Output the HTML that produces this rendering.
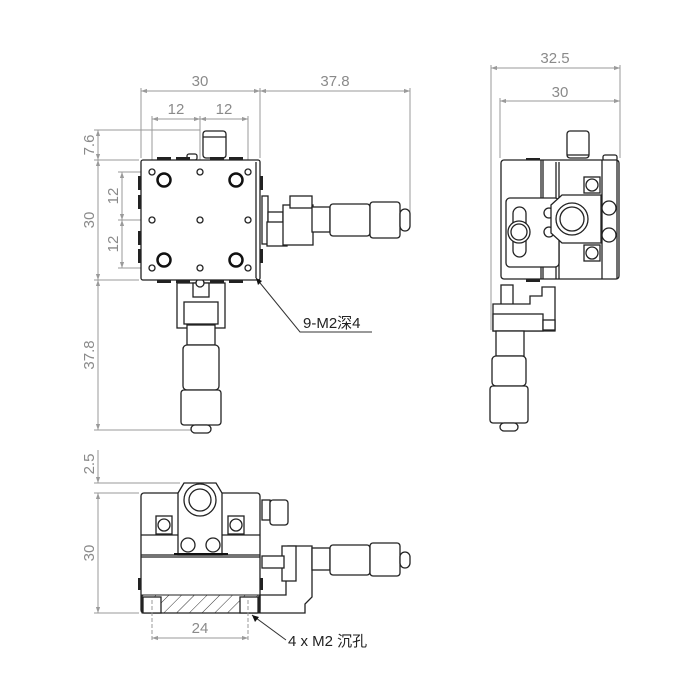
<!DOCTYPE html>
<html><head><meta charset="utf-8"><style>
html,body{margin:0;padding:0;background:#fff}
svg{display:block}
.d{stroke:#9a9a9a;stroke-width:1;fill:none}
.t{font-family:"Liberation Sans","Noto Sans CJK SC",sans-serif;fill:#8a8a8a;font-size:15px}
.k{stroke:#222;stroke-width:1.3;fill:#fff}
.kn{stroke:#222;stroke-width:1.3;fill:none}
.b{fill:#222}
</style></head><body>
<svg width="700" height="700" viewBox="0 0 700 700" xmlns="http://www.w3.org/2000/svg">
<defs>
<marker id="a" viewBox="0 0 10 10" refX="10" refY="5" markerWidth="9" markerHeight="6" orient="auto-start-reverse"><path d="M0,1.5L10,5L0,8.5z" fill="#9a9a9a"/></marker>
<pattern id="h" width="9" height="9" patternUnits="userSpaceOnUse" patternTransform="rotate(45)"><line x1="0" y1="0" x2="0" y2="9" stroke="#333" stroke-width="1"/></pattern>
</defs>

<!-- ===== TOP VIEW ===== -->
<!-- dims -->
<line class="d" x1="141" y1="88" x2="141" y2="158"/>
<line class="d" x1="260" y1="88" x2="260" y2="158"/>
<line class="d" x1="410" y1="88" x2="410" y2="222"/>
<line class="d" x1="141" y1="91" x2="260" y2="91" marker-start="url(#a)" marker-end="url(#a)"/>
<line class="d" x1="260" y1="91" x2="410" y2="91" marker-start="url(#a)" marker-end="url(#a)"/>
<text class="t" x="200" y="86" text-anchor="middle">30</text>
<text class="t" x="335" y="86" text-anchor="middle">37.8</text>
<line class="d" x1="152" y1="116" x2="152" y2="168"/>
<line class="d" x1="200" y1="116" x2="200" y2="168"/>
<line class="d" x1="248" y1="116" x2="248" y2="168"/>
<line class="d" x1="152" y1="119" x2="200" y2="119" marker-start="url(#a)" marker-end="url(#a)"/>
<line class="d" x1="200" y1="119" x2="248" y2="119" marker-start="url(#a)" marker-end="url(#a)"/>
<text class="t" x="176" y="114" text-anchor="middle">12</text>
<text class="t" x="224" y="114" text-anchor="middle">12</text>
<!-- left dims -->
<line class="d" x1="94" y1="130" x2="200" y2="130"/>
<line class="d" x1="94" y1="160" x2="139" y2="160"/>
<line class="d" x1="94" y1="280" x2="139" y2="280"/>
<line class="d" x1="94" y1="430" x2="195" y2="430"/>
<line class="d" x1="98" y1="130" x2="98" y2="160" marker-start="url(#a)" marker-end="url(#a)"/>
<line class="d" x1="98" y1="160" x2="98" y2="280" marker-start="url(#a)" marker-end="url(#a)"/>
<line class="d" x1="98" y1="280" x2="98" y2="430" marker-start="url(#a)" marker-end="url(#a)"/>
<text class="t" transform="translate(94,145) rotate(-90)" text-anchor="middle">7.6</text>
<text class="t" transform="translate(94,220) rotate(-90)" text-anchor="middle">30</text>
<text class="t" transform="translate(94,355) rotate(-90)" text-anchor="middle">37.8</text>
<line class="d" x1="118" y1="172" x2="150" y2="172"/>
<line class="d" x1="118" y1="220" x2="150" y2="220"/>
<line class="d" x1="118" y1="268" x2="150" y2="268"/>
<line class="d" x1="122" y1="172" x2="122" y2="220" marker-start="url(#a)" marker-end="url(#a)"/>
<line class="d" x1="122" y1="220" x2="122" y2="268" marker-start="url(#a)" marker-end="url(#a)"/>
<text class="t" transform="translate(118,196) rotate(-90)" text-anchor="middle">12</text>
<text class="t" transform="translate(118,244) rotate(-90)" text-anchor="middle">12</text>
<!-- top knob -->
<rect class="k" x="203" y="131" width="23" height="27" rx="3"/>
<line class="kn" x1="203" y1="137" x2="226" y2="137"/>
<rect class="k" x="187" y="154" width="10" height="6" rx="2"/>
<!-- edge bumps -->
<rect class="b" x="157" y="157" width="14" height="3"/><rect class="b" x="176" y="157" width="14" height="3"/><rect class="b" x="210" y="157" width="14" height="3"/><rect class="b" x="229" y="157" width="14" height="3"/>
<rect class="b" x="157" y="280" width="14" height="3"/><rect class="b" x="176" y="280" width="14" height="3"/><rect class="b" x="210" y="280" width="14" height="3"/><rect class="b" x="229" y="280" width="14" height="3"/>
<rect class="b" x="138" y="176" width="3" height="14"/><rect class="b" x="138" y="195" width="3" height="14"/><rect class="b" x="138" y="231" width="3" height="14"/><rect class="b" x="138" y="249" width="3" height="14"/>
<rect class="b" x="260" y="176" width="3" height="14"/><rect class="b" x="260" y="249" width="3" height="14"/>
<!-- right micrometer -->
<rect class="k" x="262" y="196" width="6" height="48"/>
<rect class="k" x="268" y="212" width="15" height="11"/>
<rect class="k" x="267" y="222" width="20" height="24"/>
<rect class="k" x="283" y="205" width="30" height="40"/>
<rect class="k" x="290" y="196" width="22" height="12"/>
<rect class="k" x="312" y="207" width="18" height="25"/>
<rect class="k" x="330" y="204" width="40" height="32" rx="3"/>
<rect class="k" x="370" y="202" width="30" height="36" rx="3"/>
<rect class="k" x="400" y="209" width="10" height="22" rx="5"/>
<!-- bottom micrometer -->
<rect class="k" x="177" y="283" width="48" height="45"/>
<rect class="k" x="193" y="283" width="16" height="14"/>
<rect class="k" x="184" y="302" width="34" height="22"/>
<rect class="k" x="187" y="325" width="28" height="20"/>
<rect class="k" x="183" y="345" width="36" height="45" rx="4"/>
<rect class="k" x="181" y="390" width="40" height="35" rx="3"/>
<rect class="k" x="191" y="425" width="20" height="8" rx="4"/>
<circle class="k" cx="200" cy="283" r="4"/>
<!-- main square -->
<rect class="k" x="141" y="160" width="119" height="120" rx="2" stroke-width="1.6"/>
<line class="kn" x1="256" y1="162" x2="256" y2="278"/>
<g class="kn">
<circle cx="152" cy="172" r="3"/><circle cx="200" cy="172" r="3"/><circle cx="248" cy="172" r="3"/>
<circle cx="152" cy="220" r="3"/><circle cx="200" cy="220" r="3"/><circle cx="248" cy="220" r="3"/>
<circle cx="152" cy="268" r="3"/><circle cx="200" cy="268" r="3"/><circle cx="248" cy="268" r="3"/>
</g>
<g fill="none" stroke="#111" stroke-width="2.5">
<circle cx="164" cy="180" r="6.5"/><circle cx="236" cy="180" r="6.5"/><circle cx="164" cy="260" r="6.5"/><circle cx="236" cy="260" r="6.5"/>
</g>
<!-- leader -->
<path d="M256,278 L300,332 L372,332" fill="none" stroke="#333" stroke-width="1"/>
<path d="M256,278 l2,7 l4,-4z" fill="#111"/>
<text x="303" y="328" font-family="Liberation Sans,Noto Sans CJK SC,sans-serif" font-size="15" fill="#222">9-M2深4</text>

<!-- ===== SIDE VIEW ===== -->
<line class="d" x1="491" y1="65" x2="491" y2="330"/>
<line class="d" x1="620" y1="65" x2="620" y2="158"/>
<line class="d" x1="500" y1="98" x2="500" y2="158"/>
<line class="d" x1="491" y1="68" x2="620" y2="68" marker-start="url(#a)" marker-end="url(#a)"/>
<line class="d" x1="500" y1="101" x2="620" y2="101" marker-start="url(#a)" marker-end="url(#a)"/>
<text class="t" x="555" y="63" text-anchor="middle">32.5</text>
<text class="t" x="560" y="97" text-anchor="middle">30</text>
<rect class="k" x="567" y="131" width="22" height="27" rx="3"/>
<line class="kn" x1="567" y1="155" x2="589" y2="155"/>
<rect class="k" x="603" y="155" width="14" height="6" rx="2"/>
<rect class="b" x="526" y="158" width="14" height="3"/><rect class="b" x="526" y="279" width="14" height="3"/>
<!-- lower micrometer -->
<rect class="k" x="501" y="285" width="12" height="20"/>
<path class="k" d="M493,304 L530,304 L530,296 L542,296 L542,287 L555,287 L555,331 L493,331z"/>
<rect class="k" x="493" y="314" width="50" height="17"/>
<rect class="k" x="543" y="320" width="12" height="10"/>
<rect class="k" x="496" y="331" width="28" height="25"/>
<rect class="k" x="492" y="356" width="34" height="30" rx="4"/>
<rect class="k" x="490" y="386" width="38" height="37" rx="3"/>
<rect class="k" x="500" y="423" width="18" height="8" rx="4"/>
<rect class="k" x="501" y="160" width="118" height="119" rx="3" stroke-width="1.6"/>
<line class="kn" x1="541" y1="160" x2="541" y2="279"/><line class="kn" x1="543" y1="160" x2="543" y2="279"/>
<line class="kn" x1="556" y1="162" x2="556" y2="279"/><line class="kn" x1="559" y1="162" x2="559" y2="279"/>
<line class="kn" x1="602" y1="160" x2="602" y2="279"/><line class="kn" x1="617" y1="160" x2="617" y2="279"/>
<rect class="k" x="506" y="198" width="53" height="69" rx="4"/>
<rect class="k" x="513" y="207" width="13" height="50" rx="6.5"/>
<circle class="k" cx="519" cy="232" r="11"/><circle class="kn" cx="519" cy="232" r="8"/>
<circle class="k" cx="549" cy="213" r="5"/><circle class="k" cx="549" cy="232" r="5"/>
<path class="k" d="M551,205 L562,195 L601,195 L601,243 L562,243 L551,233z"/>
<circle class="k" cx="572" cy="219" r="16"/><circle class="kn" cx="572" cy="219" r="12"/>
<rect class="k" x="584" y="177" width="16" height="16"/><circle class="k" cx="592" cy="185" r="6" stroke-width="2"/>
<rect class="k" x="584" y="245" width="16" height="16"/><circle class="k" cx="592" cy="253" r="6" stroke-width="2"/>
<circle class="k" cx="609" cy="208" r="7" stroke-width="2"/><circle class="k" cx="609" cy="235" r="7" stroke-width="2"/>

<!-- ===== FRONT VIEW ===== -->
<line class="d" x1="94" y1="483" x2="180" y2="483"/>
<line class="d" x1="94" y1="493" x2="139" y2="493"/>
<line class="d" x1="94" y1="613" x2="139" y2="613"/>
<line class="d" x1="98" y1="450" x2="98" y2="483" marker-end="url(#a)"/>
<line class="d" x1="98" y1="493" x2="98" y2="613" marker-start="url(#a)" marker-end="url(#a)"/>
<text class="t" transform="translate(94,464) rotate(-90)" text-anchor="middle">2.5</text>
<text class="t" transform="translate(94,553) rotate(-90)" text-anchor="middle">30</text>
<!-- micrometer -->
<rect class="k" x="262" y="500" width="8" height="20"/>
<rect class="k" x="270" y="500" width="18" height="25" rx="3"/>
<path class="k" d="M260,613 L260,595 L286,595 L286,580 L288,580 L288,546 L312,546 L312,597 L305,604 L305,613z"/>
<rect class="k" x="282" y="546" width="14" height="35"/>
<rect class="k" x="262" y="556" width="22" height="12"/>
<rect class="k" x="312" y="548" width="18" height="22"/>
<rect class="k" x="330" y="545" width="40" height="30" rx="3"/>
<rect class="k" x="370" y="543" width="30" height="33" rx="3"/>
<rect class="k" x="400" y="552" width="10" height="16" rx="5"/>
<!-- body -->
<rect class="k" x="141" y="493" width="119" height="120" rx="3" stroke-width="1.6"/>
<line class="kn" x1="141" y1="535" x2="260" y2="535"/>
<line class="kn" x1="141" y1="555" x2="260" y2="555"/><line class="kn" x1="141" y1="557" x2="260" y2="557"/>
<rect x="142" y="595" width="117" height="18" fill="url(#h)" stroke="#222"/>
<rect class="k" x="143" y="597" width="18" height="16"/><rect class="k" x="240" y="597" width="18" height="16"/>
<rect class="b" x="138" y="578" width="3" height="12"/><rect class="b" x="260" y="578" width="3" height="12"/>
<path class="k" d="M178,493 L184,483 L216,483 L222,493 L222,555 L178,555z"/>
<circle class="k" cx="200" cy="500" r="16"/><circle class="kn" cx="200" cy="500" r="11"/>
<line x1="174" y1="554" x2="228" y2="554" stroke="#111" stroke-width="2"/>
<rect class="k" x="156" y="516" width="16" height="18"/><circle class="k" cx="164" cy="525" r="6" stroke-width="2"/>
<rect class="k" x="228" y="516" width="16" height="18"/><circle class="k" cx="236" cy="525" r="6" stroke-width="2"/>
<circle class="k" cx="188" cy="545" r="7" stroke-width="2"/><circle class="k" cx="213" cy="545" r="7" stroke-width="2"/>
<!-- 24 dim -->
<line class="d" x1="152" y1="600" x2="152" y2="641" stroke-dasharray="4,2"/>
<line class="d" x1="248" y1="600" x2="248" y2="641" stroke-dasharray="4,2"/>
<line class="d" x1="152" y1="638" x2="248" y2="638" marker-start="url(#a)" marker-end="url(#a)"/>
<text class="t" x="200" y="633" text-anchor="middle">24</text>
<path d="M252,615 L286,640" fill="none" stroke="#333" stroke-width="1"/>
<path d="M252,615 l3,7 l4,-5z" fill="#111"/>
<text x="288" y="646" font-family="Liberation Sans,Noto Sans CJK SC,sans-serif" font-size="15" fill="#222">4 x M2 沉孔</text>
</svg>
</body></html>
